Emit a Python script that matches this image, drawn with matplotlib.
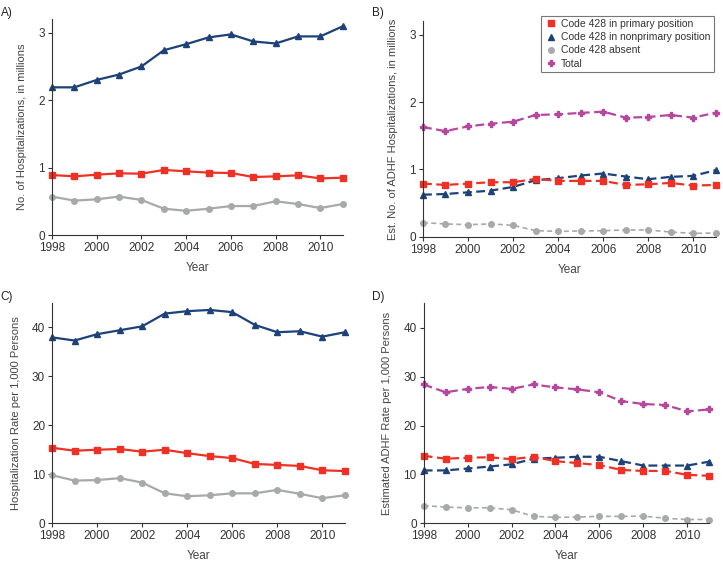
import numpy as np
import matplotlib
matplotlib.use('Agg')
import matplotlib.pyplot as plt

plt.rcParams['font.family'] = ['Liberation Sans', 'DejaVu Sans']

years = np.arange(1998, 2012)

# A) hospitalizations, millions
a_primary = [0.89, 0.87, 0.895, 0.915, 0.91, 0.965, 0.945, 0.925, 0.92, 0.86, 0.87, 0.885, 0.84, 0.85]
a_nonprimary = [2.19, 2.19, 2.30, 2.38, 2.50, 2.74, 2.83, 2.93, 2.975, 2.87, 2.84, 2.945, 2.945, 3.095]
a_absent = [0.57, 0.51, 0.53, 0.57, 0.52, 0.39, 0.36, 0.39, 0.43, 0.43, 0.50, 0.46, 0.40, 0.46]

# B) estimated ADHF hospitalizations, millions
b_primary = [0.79, 0.77, 0.79, 0.81, 0.81, 0.86, 0.83, 0.83, 0.83, 0.77, 0.78, 0.80, 0.76, 0.77]
b_nonprimary = [0.625, 0.635, 0.66, 0.685, 0.74, 0.84, 0.87, 0.91, 0.94, 0.895, 0.855, 0.89, 0.905, 0.99]
b_absent = [0.21, 0.19, 0.18, 0.19, 0.17, 0.09, 0.08, 0.085, 0.09, 0.10, 0.10, 0.07, 0.05, 0.055]
b_total = [1.63, 1.57, 1.64, 1.68, 1.71, 1.81, 1.82, 1.84, 1.86, 1.77, 1.78, 1.81, 1.77, 1.845]

# C) hospitalization rate per 1,000
c_primary = [15.4, 14.8, 15.0, 15.15, 14.6, 15.0, 14.3, 13.7, 13.3, 12.1, 11.9, 11.7, 10.8, 10.65]
c_nonprimary = [37.95, 37.3, 38.6, 39.4, 40.2, 42.8, 43.3, 43.55, 43.1, 40.5, 39.0, 39.2, 38.1, 39.0]
c_absent = [9.8, 8.7, 8.8, 9.2, 8.3, 6.1, 5.5, 5.7, 6.1, 6.1, 6.8, 6.0, 5.1, 5.7]

# D) estimated ADHF rate per 1,000
d_primary = [13.8, 13.2, 13.4, 13.5, 13.1, 13.6, 12.7, 12.3, 11.9, 10.9, 10.7, 10.7, 9.9, 9.7]
d_nonprimary = [10.8, 10.8, 11.2, 11.6, 12.05, 13.2, 13.4, 13.6, 13.6, 12.7, 11.8, 11.8, 11.8, 12.6]
d_absent = [3.6, 3.3, 3.15, 3.15, 2.75, 1.4, 1.2, 1.25, 1.4, 1.4, 1.45, 1.0, 0.75, 0.75]
d_total = [28.4, 26.8, 27.5, 27.9, 27.5, 28.4, 27.8, 27.4, 26.8, 25.0, 24.4, 24.2, 22.9, 23.3]

labels = ['Code 428 in primary position', 'Code 428 in nonprimary position',
          'Code 428 absent', 'Total']

red = '#ee3124'
navy = '#1d4179'
gray = '#a7a9ac'
magenta = '#b5479f'

fig = plt.figure(figsize=(7.23, 5.65), dpi=100)
axA = fig.add_axes([0.072, 0.584, 0.402, 0.382])
axB = fig.add_axes([0.585, 0.581, 0.405, 0.381])
axC = fig.add_axes([0.072, 0.074, 0.405, 0.390])
axD = fig.add_axes([0.586, 0.074, 0.395, 0.389])


def style(ax, ylim, yticks, ylabel):
    ax.set_xlim(1998, 2011)
    ax.set_ylim(*ylim)
    ax.set_yticks(yticks)
    ax.set_xticks(np.arange(1998, 2011, 2))
    ax.spines['top'].set_visible(False)
    ax.spines['right'].set_visible(False)
    for s in ['left', 'bottom']:
        ax.spines[s].set_color('#333333')
        ax.spines[s].set_linewidth(0.8)
    ax.tick_params(labelsize=8.5, colors='#333333', length=3, width=0.8, pad=2)
    ax.set_xlabel('Year', fontsize=8.5, color='#444444', labelpad=6)
    ax.set_ylabel(ylabel, fontsize=8, color='#444444', labelpad=8)


solid = dict(linewidth=1.6, clip_on=False)
dash = dict(linewidth=1.6, linestyle=(0, (4, 2)), clip_on=False)

# A
axA.plot(years, a_nonprimary, color=navy, marker='^', markersize=4, **solid)
axA.plot(years, a_primary, color=red, marker='s', markersize=4.5, **solid)
axA.plot(years, a_absent, color=gray, marker='o', markersize=4, **solid)
style(axA, (0, 3.2), [0, 1, 2, 3], 'No. of Hospitalizations, in millions')

# B
axB.plot(years, b_total, color=magenta, marker='P', markersize=4, **dash)
axB.plot(years, b_nonprimary, color=navy, marker='^', markersize=4, **dash)
axB.plot(years, b_primary, color=red, marker='s', markersize=4.5, **dash)
axB.plot(years, b_absent, color=gray, marker='o', markersize=4, linewidth=1.2,
         linestyle=(0, (3, 2)), clip_on=False)
style(axB, (0, 3.2), [0, 1, 2, 3], 'Est. No. of ADHF Hospitalizations, in millions')

# legend with markers only
handles = [
    plt.Line2D([], [], color=red, marker='s', linestyle='none', markersize=4.5),
    plt.Line2D([], [], color=navy, marker='^', linestyle='none', markersize=4),
    plt.Line2D([], [], color=gray, marker='o', linestyle='none', markersize=4),
    plt.Line2D([], [], color=magenta, marker='P', linestyle='none', markersize=4),
]
leg = axB.legend(handles, labels, loc='upper right', bbox_to_anchor=(1.0, 1.035),
                 fontsize=7.5, frameon=True, fancybox=False, handletextpad=0.3,
                 handlelength=1.3, borderpad=0.3, labelspacing=0.3, borderaxespad=0.2)
leg.get_frame().set_edgecolor('#555555')
leg.get_frame().set_linewidth(0.8)
for t in leg.get_texts():
    t.set_color('#333333')

# C
axC.plot(years, c_nonprimary, color=navy, marker='^', markersize=4, **solid)
axC.plot(years, c_primary, color=red, marker='s', markersize=4.5, **solid)
axC.plot(years, c_absent, color=gray, marker='o', markersize=4, **solid)
style(axC, (0, 45), [0, 10, 20, 30, 40], 'Hospitalization Rate per 1,000 Persons')

# D
axD.plot(years, d_total, color=magenta, marker='P', markersize=4, **dash)
axD.plot(years, d_nonprimary, color=navy, marker='^', markersize=4, **dash)
axD.plot(years, d_primary, color=red, marker='s', markersize=4.5, **dash)
axD.plot(years, d_absent, color=gray, marker='o', markersize=4, linewidth=1.2,
         linestyle=(0, (3, 2)), clip_on=False)
style(axD, (0, 45), [0, 10, 20, 30, 40], 'Estimated ADHF Rate per 1,000 Persons')

# panel letters
for letter, x, y in [('A)', 0.001, 0.977), ('B)', 0.515, 0.977),
                     ('C)', 0.001, 0.475), ('D)', 0.515, 0.475)]:
    fig.text(x, y, letter, fontsize=8.5, color='#222222', ha='left', va='center')

fig.savefig('out.png', dpi=100)
